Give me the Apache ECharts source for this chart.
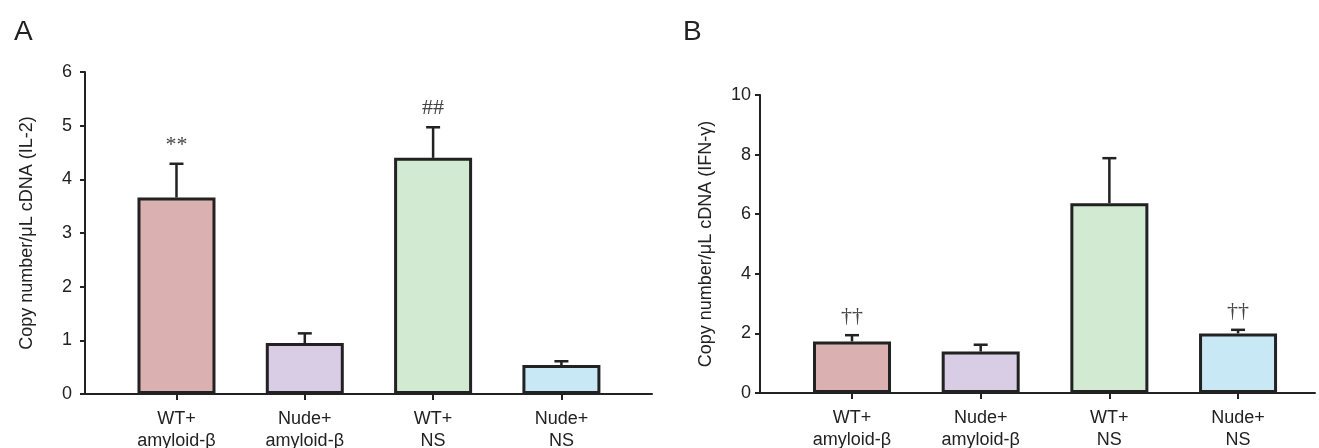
<!DOCTYPE html>
<html>
<head>
<meta charset="utf-8">
<script src="https://cdn.jsdelivr.net/npm/echarts@6/dist/echarts.min.js"></script>
<style>
html,body{margin:0;padding:0;background:#fff;}
#chart{width:1319px;height:448px;}
</style>
</head>
<body>
<div id="chart"></div>
<script>
// ---- data ----
const categories = ['WT+\namyloid-β', 'Nude+\namyloid-β', 'WT+\nNS', 'Nude+\nNS'];
const il2Mean  = [3.66, 0.95, 4.40, 0.54];
const il2Upper = [4.29, 1.13, 4.97, 0.61];
const il2Marks = ['**', '', '##', ''];
const ifnMean  = [1.73, 1.39, 6.37, 2.00];
const ifnUpper = [1.94, 1.62, 7.88, 2.12];
const ifnMarks = ['††', '', '', '††'];
const il2Ticks = [0, 1, 2, 3, 4, 5, 6];
const ifnTicks = [0, 2, 4, 6, 8, 10];

// ---- styles ----
const barColors = ['#dbb0b1', '#d9cde6', '#d3ead2', '#c8e8f6'];
const sansFont = '"Liberation Sans", Arial, sans-serif';
const serifFont = '"Liberation Serif", "Times New Roman", serif';
const ink = '#222';

const chart = echarts.init(document.getElementById('chart'), null, {renderer: 'canvas'});

function xAxis(gridIndex, min, max) {
  return {
    type: 'value', gridIndex, min, max,
    splitLine: {show: false},
    axisLine: {show: true, onZero: false, lineStyle: {color: ink, width: 2}},
    axisTick: {show: true, inside: false, length: 6, customValues: [0, 1, 2, 3], lineStyle: {color: ink, width: 2}},
    axisLabel: {
      show: true, customValues: [0, 1, 2, 3], margin: 14,
      formatter: v => categories[Math.round(v)] || '',
      color: ink, fontFamily: sansFont, fontSize: 18, lineHeight: 22
    }
  };
}
function yAxis(gridIndex, ticks, name, nameGap, labelMargin) {
  return {
    type: 'value', gridIndex,
    min: ticks[0], max: ticks[ticks.length - 1], interval: ticks[1] - ticks[0],
    name, nameLocation: 'middle', nameGap,
    nameTextStyle: {color: ink, fontFamily: sansFont, fontSize: 18},
    splitLine: {show: false},
    axisLine: {show: true, onZero: false, lineStyle: {color: ink, width: 2}},
    axisTick: {show: true, inside: false, length: 5, lineStyle: {color: ink, width: 2}},
    axisLabel: {margin: labelMargin, color: ink, fontFamily: sansFont, fontSize: 18}
  };
}
function barSeries(idx, means) {
  return {
    type: 'bar', xAxisIndex: idx, yAxisIndex: idx,
    barWidth: 78, z: 2,
    data: means.map((v, i) => ({
      value: [i, v],
      itemStyle: {color: barColors[i], borderColor: ink, borderWidth: 3}
    }))
  };
}
function errSeries(idx, means, uppers, marks) {
  return {
    type: 'custom', xAxisIndex: idx, yAxisIndex: idx, z: 3,
    encode: {x: 0, y: 2},
    data: means.map((m, i) => [i, m, uppers[i]]),
    renderItem: function (params, api) {
      const x = api.value(0);
      const p0 = api.coord([x, api.value(1)]);
      const p1 = api.coord([x, api.value(2)]);
      const children = [
        {type: 'line', shape: {x1: p0[0], y1: p0[1], x2: p1[0], y2: p1[1]},
         style: {stroke: ink, lineWidth: 2.5}},
        {type: 'line', shape: {x1: p1[0] - 7, y1: p1[1], x2: p1[0] + 7, y2: p1[1]},
         style: {stroke: ink, lineWidth: 2.5}}
      ];
      const mark = marks[params.dataIndex];
      if (mark) {
        children.push({type: 'text', x: p1[0], y: p1[1] - 19,
          style: {text: mark, fill: '#444', font: '22px ' + serifFont,
                  align: 'center', verticalAlign: 'middle'}});
      }
      return {type: 'group', children};
    }
  };
}

chart.setOption({
  animation: false,
  backgroundColor: '#fff',
  title: [
    {text: 'A', left: 9, top: 13, textStyle: {fontFamily: sansFont, fontSize: 28, fontWeight: 'normal', color: ink}},
    {text: 'B', left: 678, top: 13, textStyle: {fontFamily: sansFont, fontSize: 28, fontWeight: 'normal', color: ink}}
  ],
  grid: [
    {left: 85, right: 667, top: 72, bottom: 54, containLabel: false, outerBoundsMode: 'none'},
    {left: 760, right: 4, top: 95, bottom: 55, containLabel: false, outerBoundsMode: 'none'}
  ],
  xAxis: [xAxis(0, -0.713, 3.706), xAxis(1, -0.715, 3.598)],
  yAxis: [
    yAxis(0, il2Ticks, 'Copy number/μL cDNA (IL-2)', 49, 13),
    yAxis(1, ifnTicks, 'Copy number/μL cDNA (IFN-γ)', 45, 9)
  ],
  series: [
    barSeries(0, il2Mean), errSeries(0, il2Mean, il2Upper, il2Marks),
    barSeries(1, ifnMean), errSeries(1, ifnMean, ifnUpper, ifnMarks)
  ]
});
</script>
</body>
</html>
